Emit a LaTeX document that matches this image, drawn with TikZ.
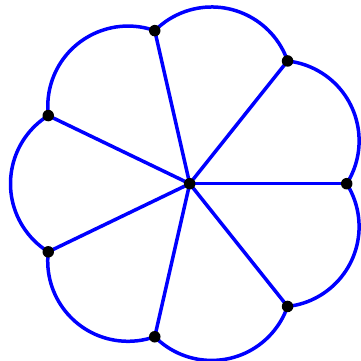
\documentclass[tikz,border=0pt]{standalone}
\usetikzlibrary{backgrounds}
\tikzset{
  edge/.style={draw={rgb,255:red,0;green,0;blue,255}, line width=3.5pt},
  dot/.style={circle, fill=black, inner sep=0pt, minimum size=11.5pt}
}
\begin{document}
\begin{tikzpicture}[x=1pt,y=1pt]
  \useasboundingbox (-189.7,-176.3) rectangle (171.3,183.7);
  \node[dot] (center) at (0,0) {};
  \foreach \i in {0,...,6} {
    \node[dot] (p\i) at ({\i*360/7}:157) {};
  }
  \begin{pgfonlayer}{background}
    \foreach \i in {0,...,6} {
      \draw[edge] (center.center) -- (p\i.center);
      \draw[edge] (p\i.center) arc[start angle={\i*360/7+180/7-58}, end angle={\i*360/7+180/7+58}, radius=80.3];
    }
  \end{pgfonlayer}
\end{tikzpicture}
\end{document}
